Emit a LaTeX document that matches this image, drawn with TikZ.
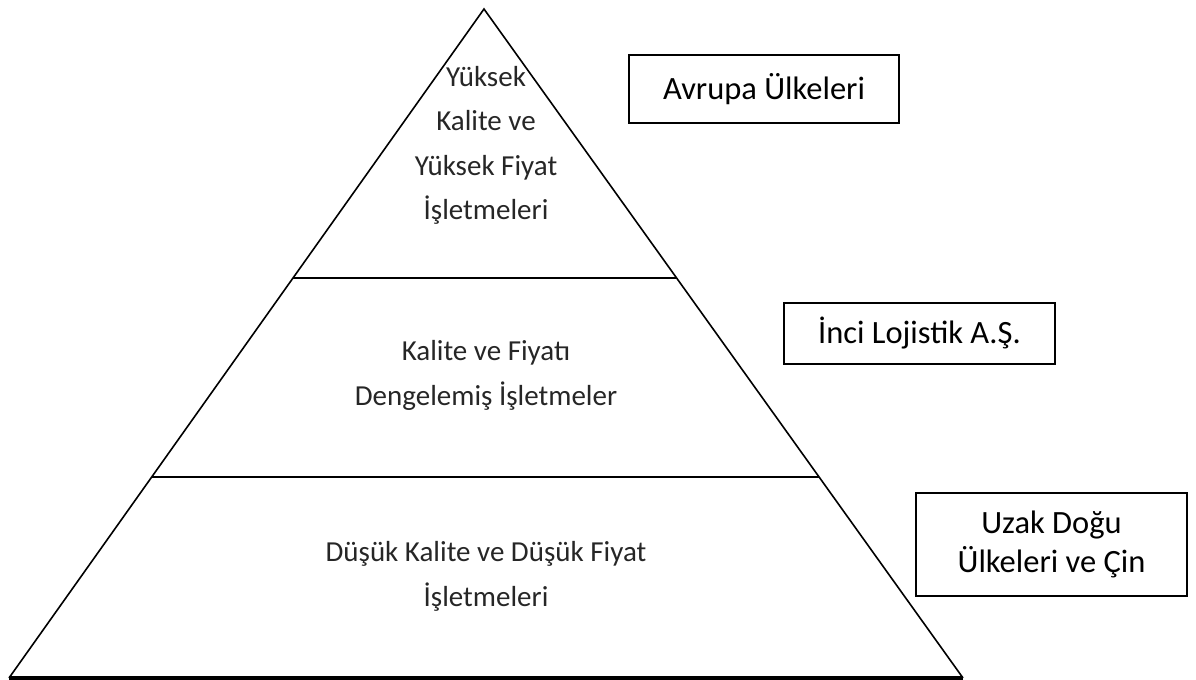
\documentclass[tikz,border=0pt]{standalone}
\usepackage{fontspec}
\setmainfont{Carlito}
\usetikzlibrary{calc}
\tikzset{
  edge/.style={line width=1.6bp, black},
  baseedge/.style={line width=3.2bp, black},
  layertext/.style={align=center, anchor=base, text=black!85,
    font={\fontsize{29bp}{44.5bp}\selectfont}},
  labelbox/.style={draw, line width=1.6bp, align=center,
    font={\fontsize{32.5bp}{39bp}\selectfont}},
}
\begin{document}
\begin{tikzpicture}[x=1bp, y=-1bp]
  \useasboundingbox (0,0) rectangle (1196,680);
  % pyramid corners
  \coordinate (A) at (484,9);
  \coordinate (L) at (9,678);
  \coordinate (R) at (963,678);
  % layer boundaries on the two sides
  \coordinate (L1) at ($(L)!0.598!(A)$);
  \coordinate (R1) at ($(R)!0.598!(A)$);
  \coordinate (L2) at ($(L)!0.3004!(A)$);
  \coordinate (R2) at ($(R)!0.3004!(A)$);
  \draw[edge, line join=miter] (L) -- (A) -- (R);
  \draw[baseedge] (L) -- (R);
  \draw[edge] (L1) -- (R1);
  \draw[edge] (L2) -- (R2);
  % layer texts (anchored at the baseline of the last line)
  \node[layertext] (top) at (486,220) {Yüksek\\Kalite ve\\Yüksek Fiyat\\İşletmeleri};
  \node[layertext] (mid) at (486,405) {Kalite ve Fiyatı\\Dengelemiş İşletmeler};
  \node[layertext] (low) at (486,606) {Düşük Kalite ve Düşük Fiyat\\İşletmeleri};
  % side labels
  \node[labelbox, minimum width=270bp, minimum height=68bp] (eu) at (764,89) {Avrupa Ülkeleri};
  \node[labelbox, minimum width=271bp, minimum height=61bp] (inci) at (919.5,333.5) {İnci Lojistik A.Ş.};
  \node[labelbox, minimum width=271bp, minimum height=103bp] (far) at (1051.5,544.5) {Uzak Doğu\\Ülkeleri ve Çin};
\end{tikzpicture}
\end{document}
